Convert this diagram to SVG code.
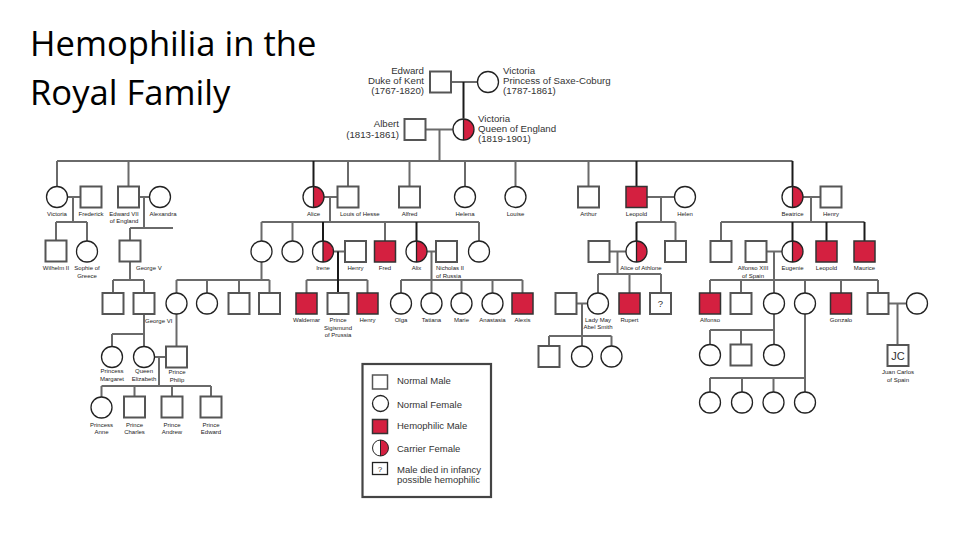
<svg xmlns="http://www.w3.org/2000/svg" xmlns:xlink="http://www.w3.org/1999/xlink" width="960" height="540" viewBox="0 0 960 540">
<style>
.title{font-family:"Open Sans","Liberation Sans",sans-serif;font-size:34.6px;fill:#000}
.big{font-family:"Liberation Sans",Arial,sans-serif;font-size:9.7px;fill:#333}
.lb{font-family:"Liberation Sans",Arial,sans-serif;font-size:6px;fill:#222;text-anchor:middle}
.ls{font-family:"Liberation Sans",Arial,sans-serif;font-size:6px;fill:#222}
.lg{font-family:"Liberation Sans",Arial,sans-serif;font-size:9.5px;fill:#333}
.m{fill:#fff;stroke:#555;stroke-width:2}
.h{fill:#d42040;stroke:#333;stroke-width:1.5}
.f{fill:#fff;stroke:#222;stroke-width:1.3}
.c{fill:none;stroke:#6a6a6a;stroke-width:2}
.d{fill:none;stroke:#1a1a1a;stroke-width:2}
</style>
<defs>
<rect id="sq" x="-10.5" y="-10.5" width="21" height="21" class="m"/>
<rect id="hm" x="-10.5" y="-10.5" width="21" height="21" class="h"/>
<circle id="fe" r="10.5" class="f"/>
<g id="ca">
<circle r="10.5" fill="#fff"/>
<path d="M0,-10.5A10.5,10.5 0 0 1 0,10.5Z" fill="#d42040"/>
<circle r="10.5" class="f" style="fill:none"/>
<line x1="0" y1="-10.5" x2="0" y2="10.5" stroke="#222" stroke-width="1.3"/>
</g>
</defs>
<rect width="960" height="540" fill="#fff"/>
<text class="title" x="30" y="56">Hemophilia in the</text>
<text class="title" x="30" y="105">Royal Family</text>

<g id="connectors">
<path class="c" d="M451,82H477.5M425.5,129.5H453M439.5,129.5V161M57,161H792.5"/>
<path class="d" d="M463.5,82V118.5"/>
<path class="c" d="M57,161V186.5M128.5,161V186.5M348,161V186.5M409.5,161V186.5M465,161V186.5M515.5,161V186.5M588.5,161V186.5"/>
<path class="d" d="M313.5,161V186.5M636.5,161V186.5M792.5,161V186.5"/>
<path class="c" d="M67.5,197H80.5M73,197V222M56,222H87M56,222V240.5M87,222V241"/>
<path class="c" d="M139,197H149.5M144,197V228M130,228H173M130,228V240.5"/>
<path class="c" d="M130,261.5V280M113,280H144M113,280V293M144,280V293"/>
<path class="c" d="M144,314V334M112,334H144M112,334V346.5M144,334V346.5"/>
<path class="c" d="M154.5,357H166M159,357V386M101.5,386H211M101.5,386V397M134.5,386V396.5M172,386V396.5M211,386V396.5"/>
<path class="c" d="M176.5,314V346.5"/>
<path class="c" d="M324,197H337.5M330,197V222M261.5,222H479M261.5,222V241M292.5,222V241M385,222V241M479,222V241"/>
<path class="d" d="M323,222V241M416.5,222V241"/>
<path class="c" d="M261.5,262V280M176.5,280H269.5M176.5,280V293M207,280V293M239,280V293M269.5,280V293"/>
<path class="c" d="M333.5,251.5H345M306.5,280H367.5M306.5,280V293M367.5,280V293"/>
<path class="d" d="M338,251.5V293"/>
<path class="c" d="M427,251.5H436M431.5,251.5V293M401,280H522.5M401,280V293M461.5,280V293M492.5,280V293M522.5,280V293"/>
<path class="c" d="M647,197H674.5M661,197V222M636.5,222H675.5M675.5,222V241"/>
<path class="d" d="M636.5,222V241"/>
<path class="c" d="M609.5,251.5H626M617.5,251.5V274M598,274H661M598,274V293M629.5,274V293M661,274V293"/>
<path class="c" d="M576.5,303.5H587.5M582,303.5V346M549,336H611.5M549,336V346M611.5,336V346"/>
<path class="c" d="M803,197H820.5M811,197V222M721,222H864.5M721,222V241"/>
<path class="d" d="M792.5,222V241M826.5,222V241M864.5,222V241"/>
<path class="c" d="M766.5,251.5H782M774,251.5V293M710,280H878M710,280V293M741,280V293M805,280V293M841,280V293M878,280V293"/>
<path class="c" d="M888.5,303.5H906.5M897.5,303.5V345"/>
<path class="c" d="M774,314V344.5M710,330H774M710,330V344.5M741,330V344.5"/>
<path class="c" d="M805,314V392M710,378H805M710,378V392M742,378V392M773.5,378V392"/>
</g>

<!-- Generation 1 -->
<g id="n-edward-kent"><use xlink:href="#sq" x="440.5" y="82"/>
<text class="big" text-anchor="end" x="424" y="74">Edward</text>
<text class="big" text-anchor="end" x="424" y="84">Duke of Kent</text>
<text class="big" text-anchor="end" x="424" y="94">(1767-1820)</text></g>
<g id="n-victoria-sc"><use xlink:href="#fe" x="488" y="82"/>
<text class="big" x="503" y="74">Victoria</text>
<text class="big" x="503" y="84">Princess of Saxe-Coburg</text>
<text class="big" x="503" y="94">(1787-1861)</text></g>
<g id="n-albert"><use xlink:href="#sq" x="415" y="129.5"/>
<text class="big" text-anchor="end" x="399" y="127">Albert</text>
<text class="big" text-anchor="end" x="399" y="137.5">(1813-1861)</text></g>
<g id="n-queen-victoria"><use xlink:href="#ca" x="463.5" y="129.5"/>
<text class="big" x="478" y="122">Victoria</text>
<text class="big" x="478" y="132">Queen of England</text>
<text class="big" x="478" y="142">(1819-1901)</text></g>

<!-- Generation 2 -->
<g id="n-victoria"><use xlink:href="#fe" x="57" y="197"/><text class="lb" x="57" y="215.5">Victoria</text></g>
<g id="n-frederick"><use xlink:href="#sq" x="91" y="197"/><text class="lb" x="91" y="215.5">Frederick</text></g>
<g id="n-edward7"><use xlink:href="#sq" x="128.5" y="197"/><text class="lb" x="124" y="215.5">Edward VII</text><text class="lb" x="124" y="222.5">of England</text></g>
<g id="n-alexandra"><use xlink:href="#fe" x="160" y="197"/><text class="lb" x="163" y="215.5">Alexandra</text></g>
<g id="n-alice"><use xlink:href="#ca" x="313.5" y="197"/><text class="lb" x="313.5" y="215.5">Alice</text></g>
<g id="n-louis"><use xlink:href="#sq" x="348" y="197"/><text class="ls" x="340" y="215.5">Louis of Hesse</text></g>
<g id="n-alfred"><use xlink:href="#sq" x="409.5" y="197"/><text class="lb" x="409.5" y="215.5">Alfred</text></g>
<g id="n-helena"><use xlink:href="#fe" x="465" y="197"/><text class="lb" x="465" y="215.5">Helena</text></g>
<g id="n-louise"><use xlink:href="#fe" x="515.5" y="197"/><text class="lb" x="515.5" y="215.5">Louise</text></g>
<g id="n-arthur"><use xlink:href="#sq" x="588.5" y="197"/><text class="lb" x="588.5" y="215.5">Arthur</text></g>
<g id="n-leopold"><use xlink:href="#hm" x="636.5" y="197"/><text class="lb" x="636.5" y="215.5">Leopold</text></g>
<g id="n-helen"><use xlink:href="#fe" x="685" y="197"/><text class="lb" x="685" y="215.5">Helen</text></g>
<g id="n-beatrice"><use xlink:href="#ca" x="792.5" y="197"/><text class="lb" x="792.5" y="215.5">Beatrice</text></g>
<g id="n-henry-b"><use xlink:href="#sq" x="831" y="197"/><text class="lb" x="831" y="215.5">Henry</text></g>

<!-- Generation 3 -->
<g id="n-wilhelm"><use xlink:href="#sq" x="56" y="251"/><text class="lb" x="56" y="270">Wilhelm II</text></g>
<g id="n-sophie"><use xlink:href="#fe" x="87" y="251.5"/><text class="lb" x="87" y="270">Sophie of</text><text class="lb" x="87" y="277.5">Greece</text></g>
<g id="n-george5"><use xlink:href="#sq" x="130" y="251"/><text class="ls" x="136" y="270">George V</text></g>
<g id="n-victoria-h"><use xlink:href="#fe" x="261.5" y="251.5"/></g>
<g id="n-elizabeth-h"><use xlink:href="#fe" x="292.5" y="251.5"/></g>
<g id="n-irene"><use xlink:href="#ca" x="323" y="251.5"/><text class="lb" x="323" y="270">Irene</text></g>
<g id="n-henry-p"><use xlink:href="#sq" x="355.5" y="251.5"/><text class="lb" x="355.5" y="270">Henry</text></g>
<g id="n-fred"><use xlink:href="#hm" x="385" y="251.5"/><text class="lb" x="385" y="270">Fred</text></g>
<g id="n-alix"><use xlink:href="#ca" x="416.5" y="251.5"/><text class="lb" x="416.5" y="270">Alix</text></g>
<g id="n-nicholas"><use xlink:href="#sq" x="446.5" y="251.5"/><text class="ls" x="436" y="270">Nicholas II</text><text class="ls" x="436" y="277.5">of Russia</text></g>
<g id="n-hesse-d"><use xlink:href="#fe" x="479" y="251.5"/></g>
<g id="n-alexander"><use xlink:href="#sq" x="599" y="251.5"/></g>
<g id="n-alice-athlone"><use xlink:href="#ca" x="636.5" y="251.5"/><text class="lb" x="641" y="270">Alice of Athlone</text></g>
<g id="n-charles-edward"><use xlink:href="#sq" x="675.5" y="251.5"/></g>
<g id="n-alexander-b"><use xlink:href="#sq" x="721" y="251.5"/></g>
<g id="n-alfonso13"><use xlink:href="#sq" x="756" y="251.5"/><text class="lb" x="753" y="270">Alfonso XIII</text><text class="lb" x="753" y="277.5">of Spain</text></g>
<g id="n-eugenie"><use xlink:href="#ca" x="792.5" y="251.5"/><text class="lb" x="792.5" y="270">Eugenie</text></g>
<g id="n-leopold-b"><use xlink:href="#hm" x="826.5" y="251.5"/><text class="lb" x="826.5" y="270">Leopold</text></g>
<g id="n-maurice"><use xlink:href="#hm" x="864.5" y="251.5"/><text class="lb" x="864.5" y="270">Maurice</text></g>

<!-- Generation 4 -->
<g id="n-g4-1"><use xlink:href="#sq" x="113" y="303.5"/></g>
<g id="n-george6"><use xlink:href="#sq" x="144" y="303.5"/><text class="ls" x="145" y="322.5">George VI</text></g>
<g id="n-alice-b"><use xlink:href="#fe" x="176.5" y="303.5"/></g>
<g id="n-louise-b"><use xlink:href="#fe" x="207" y="303.5"/></g>
<g id="n-george-b"><use xlink:href="#sq" x="239" y="303.5"/></g>
<g id="n-louis-b"><use xlink:href="#sq" x="269.5" y="303.5"/></g>
<g id="n-waldemar"><use xlink:href="#hm" x="306.5" y="303.5"/><text class="lb" x="306.5" y="322">Waldemar</text></g>
<g id="n-sigismund"><use xlink:href="#sq" x="338" y="303.5"/><text class="lb" x="338" y="322">Prince</text><text class="lb" x="338" y="329.5">Sigismund</text><text class="lb" x="338" y="337">of Prussia</text></g>
<g id="n-henry-h"><use xlink:href="#hm" x="367.5" y="303.5"/><text class="lb" x="367.5" y="322">Henry</text></g>
<g id="n-olga"><use xlink:href="#fe" x="401" y="303.5"/><text class="lb" x="401" y="322">Olga</text></g>
<g id="n-tatiana"><use xlink:href="#fe" x="431.5" y="303.5"/><text class="lb" x="431.5" y="322">Tatiana</text></g>
<g id="n-marie"><use xlink:href="#fe" x="461.5" y="303.5"/><text class="lb" x="461.5" y="322">Marie</text></g>
<g id="n-anastasia"><use xlink:href="#fe" x="492.5" y="303.5"/><text class="lb" x="492.5" y="322">Anastasia</text></g>
<g id="n-alexis"><use xlink:href="#hm" x="522.5" y="303.5"/><text class="lb" x="522.5" y="322">Alexis</text></g>
<g id="n-abel-smith"><use xlink:href="#sq" x="566" y="303.5"/></g>
<g id="n-lady-may"><use xlink:href="#fe" x="598" y="303.5"/><text class="lb" x="598" y="322">Lady May</text><text class="lb" x="598" y="329">Abel Smith</text></g>
<g id="n-rupert"><use xlink:href="#hm" x="629.5" y="303.5"/><text class="lb" x="629.5" y="322">Rupert</text></g>
<g id="n-unknown"><use xlink:href="#sq" x="660.5" y="303.5"/><text class="lg" text-anchor="middle" x="660.5" y="307">?</text></g>
<g id="n-alfonso"><use xlink:href="#hm" x="710" y="303.5"/><text class="lb" x="710" y="322">Alfonso</text></g>
<g id="n-jaime"><use xlink:href="#sq" x="741" y="303.5"/></g>
<g id="n-beatriz"><use xlink:href="#fe" x="774" y="303.5"/></g>
<g id="n-maria-cristina"><use xlink:href="#fe" x="805" y="303.5"/></g>
<g id="n-gonzalo"><use xlink:href="#hm" x="841" y="303.5"/><text class="lb" x="841" y="322">Gonzalo</text></g>
<g id="n-juan"><use xlink:href="#sq" x="878" y="303.5"/></g>
<g id="n-juan-wife"><use xlink:href="#fe" x="917" y="303.5"/></g>

<!-- Generation 5 -->
<g id="n-margaret"><use xlink:href="#fe" x="112" y="357"/><text class="lb" x="112" y="373">Princess</text><text class="lb" x="112" y="381">Margaret</text></g>
<g id="n-elizabeth"><use xlink:href="#fe" x="144" y="357"/><text class="lb" x="144" y="373">Queen</text><text class="lb" x="144" y="381">Elizabeth</text></g>
<g id="n-philip"><use xlink:href="#sq" x="176.5" y="357"/><text class="lb" x="177" y="374">Prince</text><text class="lb" x="177" y="381.5">Philip</text></g>
<g id="n-ms-1"><use xlink:href="#sq" x="549" y="356.5"/></g>
<g id="n-ms-2"><use xlink:href="#fe" x="582" y="356.5"/></g>
<g id="n-ms-3"><use xlink:href="#fe" x="611.5" y="356.5"/></g>
<g id="n-sp5-1"><use xlink:href="#fe" x="710" y="355"/></g>
<g id="n-sp5-2"><use xlink:href="#sq" x="741" y="355"/></g>
<g id="n-sp5-3"><use xlink:href="#fe" x="774" y="355"/></g>
<g id="n-juan-carlos"><use xlink:href="#sq" x="898" y="355.5"/><text class="lg" text-anchor="middle" x="898" y="359.5" style="font-size:11px">JC</text><text class="lb" x="898" y="374">Juan Carlos</text><text class="lb" x="898" y="381.5">of Spain</text></g>

<!-- Generation 6 -->
<g id="n-anne"><use xlink:href="#fe" x="101.5" y="407.5"/><text class="lb" x="101.5" y="426.5">Princess</text><text class="lb" x="101.5" y="433.5">Anne</text></g>
<g id="n-charles"><use xlink:href="#sq" x="134.5" y="407"/><text class="lb" x="134.5" y="426.5">Prince</text><text class="lb" x="134.5" y="433.5">Charles</text></g>
<g id="n-andrew"><use xlink:href="#sq" x="172" y="407"/><text class="lb" x="172" y="426.5">Prince</text><text class="lb" x="172" y="433.5">Andrew</text></g>
<g id="n-prince-edward"><use xlink:href="#sq" x="211" y="407"/><text class="lb" x="211" y="426.5">Prince</text><text class="lb" x="211" y="433.5">Edward</text></g>
<g id="n-sp6-1"><use xlink:href="#fe" x="710" y="402.5"/></g>
<g id="n-sp6-2"><use xlink:href="#fe" x="742" y="402.5"/></g>
<g id="n-sp6-3"><use xlink:href="#fe" x="773.5" y="402.5"/></g>
<g id="n-sp6-4"><use xlink:href="#fe" x="805" y="402.5"/></g>

<!-- Legend -->
<g id="legend">
<rect x="362.5" y="364" width="128.5" height="133" fill="#fff" stroke="#444" stroke-width="2.2"/>
<rect x="372.5" y="375" width="15" height="14" class="m" style="stroke-width:1.5"/>
<text class="lg" x="397" y="384">Normal Male</text>
<circle cx="380.5" cy="403.5" r="8" class="f"/>
<text class="lg" x="397" y="407.5">Normal Female</text>
<rect x="372.5" y="419.5" width="15" height="14" class="h"/>
<text class="lg" x="397" y="429">Hemophilic Male</text>
<g transform="translate(380.5,448) scale(0.76)"><use xlink:href="#ca"/></g>
<text class="lg" x="397" y="451.5">Carrier Female</text>
<rect x="372.5" y="462.5" width="15" height="12" class="f"/>
<text class="lg" text-anchor="middle" x="380" y="472" style="font-size:8px">?</text>
<text class="lg" x="397" y="473">Male died in infancy</text>
<text class="lg" x="397" y="483">possible hemophilic</text>
</g>
</svg>
